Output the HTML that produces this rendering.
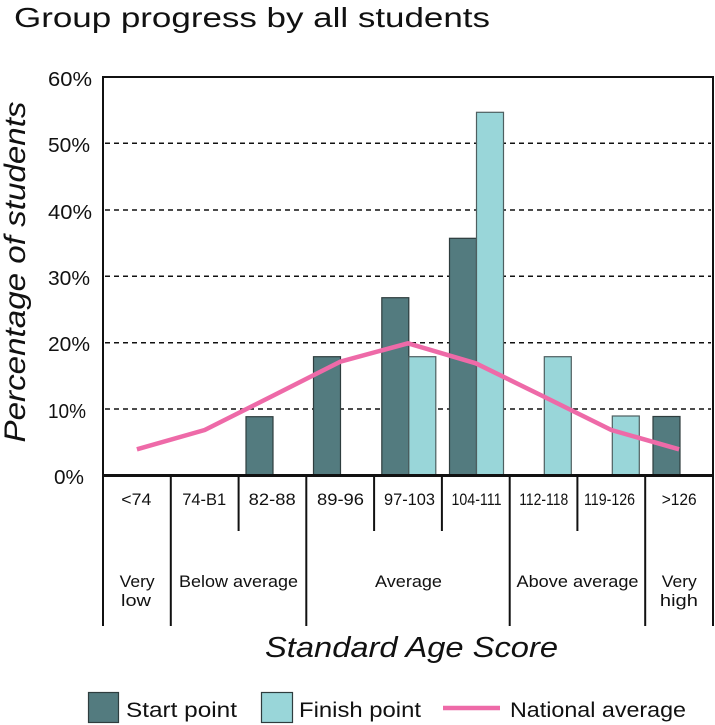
<!DOCTYPE html>
<html>
<head>
<meta charset="utf-8">
<style>
html,body{margin:0;padding:0;background:#fff;}
svg{display:block;}
text{font-family:"Liberation Sans",sans-serif;fill:#111;}
</style>
</head>
<body>
<svg width="715" height="725" viewBox="0 0 715 725" xmlns="http://www.w3.org/2000/svg">
<rect x="0" y="0" width="715" height="725" fill="#fff"/>
<!-- Title -->
<text x="14" y="27" font-size="28" textLength="476" lengthAdjust="spacingAndGlyphs">Group progress by all students</text>

<!-- gridlines -->
<g stroke="#111" stroke-width="1.5" stroke-dasharray="5,4">
<line x1="105" y1="143.3" x2="711" y2="143.3"/>
<line x1="105" y1="210" x2="711" y2="210"/>
<line x1="105" y1="276.3" x2="711" y2="276.3"/>
<line x1="105" y1="342.7" x2="711" y2="342.7"/>
<line x1="105" y1="409" x2="711" y2="409"/>
</g>

<!-- bars -->
<g stroke-width="1.2">
<rect x="246" y="416.7" width="27" height="58.3" fill="#537b7f" stroke="#2e3d3e"/>
<rect x="313.5" y="356.7" width="27" height="118.3" fill="#537b7f" stroke="#2e3d3e"/>
<rect x="381.8" y="297.7" width="27" height="177.3" fill="#537b7f" stroke="#2e3d3e"/>
<rect x="408.8" y="356.7" width="27" height="118.3" fill="#99d6d9" stroke="#4e5f60"/>
<rect x="449.5" y="238.3" width="27" height="236.7" fill="#537b7f" stroke="#2e3d3e"/>
<rect x="476.5" y="112.3" width="27" height="362.7" fill="#99d6d9" stroke="#4e5f60"/>
<rect x="544.3" y="356.7" width="27" height="118.3" fill="#99d6d9" stroke="#4e5f60"/>
<rect x="612.3" y="416" width="27" height="59" fill="#99d6d9" stroke="#4e5f60"/>
<rect x="653" y="416.5" width="27" height="58.5" fill="#537b7f" stroke="#2e3d3e"/>
</g>

<!-- national average -->
<polyline points="136.9,449.3 204.7,430 272.4,396 340.2,361.7 408,343.3 475.8,363.3 543.6,396.5 611.3,430 679.1,449.3" fill="none" stroke="#ee6aa8" stroke-width="4.5" stroke-linejoin="round"/>

<!-- frame -->
<rect x="103" y="77" width="610" height="398" fill="none" stroke="#111" stroke-width="2"/>
<line x1="102" y1="475.5" x2="714" y2="475.5" stroke="#111" stroke-width="3"/>

<!-- y tick labels -->
<g font-size="20" text-anchor="middle">
<text x="70" y="86" textLength="44" lengthAdjust="spacingAndGlyphs">60%</text>
<text x="69" y="152" textLength="42" lengthAdjust="spacingAndGlyphs">50%</text>
<text x="70" y="219" textLength="44" lengthAdjust="spacingAndGlyphs">40%</text>
<text x="69" y="285" textLength="42" lengthAdjust="spacingAndGlyphs">30%</text>
<text x="69" y="351" textLength="42" lengthAdjust="spacingAndGlyphs">20%</text>
<text x="67" y="418" textLength="38" lengthAdjust="spacingAndGlyphs">10%</text>
<text x="69" y="484" textLength="30" lengthAdjust="spacingAndGlyphs">0%</text>
</g>

<!-- y axis title -->
<text transform="translate(25,272) rotate(-90)" font-size="30" font-style="italic" text-anchor="middle" textLength="341" lengthAdjust="spacingAndGlyphs">Percentage of students</text>

<!-- category table lines -->
<g stroke="#111" stroke-width="2">
<line x1="103" y1="475" x2="103" y2="626"/>
<line x1="170.8" y1="475" x2="170.8" y2="626"/>
<line x1="238.6" y1="475" x2="238.6" y2="531"/>
<line x1="306.3" y1="475" x2="306.3" y2="626"/>
<line x1="374.1" y1="475" x2="374.1" y2="531"/>
<line x1="441.9" y1="475" x2="441.9" y2="531"/>
<line x1="509.7" y1="475" x2="509.7" y2="626"/>
<line x1="577.4" y1="475" x2="577.4" y2="531"/>
<line x1="645.2" y1="475" x2="645.2" y2="626"/>
<line x1="713" y1="475" x2="713" y2="626"/>
</g>

<!-- category labels -->
<g font-size="16.5" text-anchor="middle">
<text x="136.3" y="505" textLength="30" lengthAdjust="spacingAndGlyphs">&lt;74</text>
<text x="204.2" y="505" textLength="44" lengthAdjust="spacingAndGlyphs">74-B1</text>
<text x="272.2" y="505" textLength="47" lengthAdjust="spacingAndGlyphs">82-88</text>
<text x="340.5" y="505" textLength="47" lengthAdjust="spacingAndGlyphs">89-96</text>
<text x="409.5" y="505" textLength="51" lengthAdjust="spacingAndGlyphs">97-103</text>
<text x="476.5" y="505" textLength="50" lengthAdjust="spacingAndGlyphs">104-111</text>
<text x="543.7" y="505" textLength="49" lengthAdjust="spacingAndGlyphs">112-118</text>
<text x="609.5" y="505" textLength="51" lengthAdjust="spacingAndGlyphs">119-126</text>
<text x="679.2" y="505" textLength="35" lengthAdjust="spacingAndGlyphs">&gt;126</text>
</g>
<g font-size="16.5" text-anchor="middle">
<text x="137.2" y="587" textLength="35" lengthAdjust="spacingAndGlyphs">Very</text>
<text x="136" y="606" textLength="30" lengthAdjust="spacingAndGlyphs">low</text>
<text x="238.5" y="587" textLength="119" lengthAdjust="spacingAndGlyphs">Below average</text>
<text x="408.5" y="587" textLength="67" lengthAdjust="spacingAndGlyphs">Average</text>
<text x="577.5" y="587" textLength="122" lengthAdjust="spacingAndGlyphs">Above average</text>
<text x="679.3" y="587" textLength="35" lengthAdjust="spacingAndGlyphs">Very</text>
<text x="678.9" y="606" textLength="38" lengthAdjust="spacingAndGlyphs">high</text>
</g>

<!-- x axis title -->
<text x="411.5" y="657" font-size="29" font-style="italic" text-anchor="middle" textLength="293" lengthAdjust="spacingAndGlyphs">Standard Age Score</text>

<!-- legend -->
<rect x="88.5" y="692.5" width="30" height="30" fill="#537b7f" stroke="#2e3d3e" stroke-width="1.2"/>
<text x="126" y="717" font-size="21" textLength="111" lengthAdjust="spacingAndGlyphs">Start point</text>
<rect x="261.5" y="692.5" width="31" height="30" fill="#99d6d9" stroke="#2e3d3e" stroke-width="1.2"/>
<text x="299" y="717" font-size="21" textLength="122" lengthAdjust="spacingAndGlyphs">Finish point</text>
<line x1="443" y1="708" x2="500" y2="708" stroke="#ee6aa8" stroke-width="4.5"/>
<text x="510" y="717" font-size="21" textLength="176" lengthAdjust="spacingAndGlyphs">National average</text>
</svg>
</body>
</html>
